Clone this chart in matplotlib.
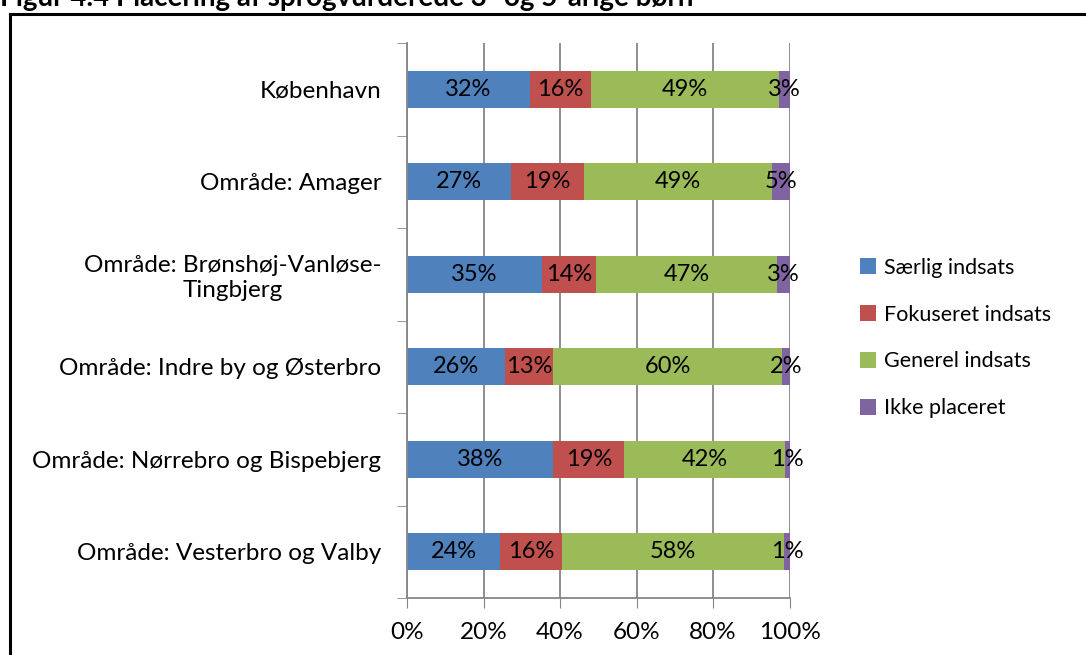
import matplotlib
matplotlib.use("Agg")
import matplotlib.pyplot as plt
from matplotlib.lines import Line2D
import numpy as np

plt.rcParams["font.family"] = ["Lato", "DejaVu Sans"]

categories = [
    "København",
    "Område: Amager",
    "Område: Brønshøj-Vanløse-\nTingbjerg",
    "Område: Indre by og Østerbro",
    "Område: Nørrebro og Bispebjerg",
    "Område: Vesterbro og Valby",
]
series = ["Særlig indsats", "Fokuseret indsats", "Generel indsats", "Ikke placeret"]
saerlig = [32.1, 27.2, 35.2, 25.6, 38.2, 24.4]
fokuseret = [16.0, 19.1, 14.3, 12.6, 18.6, 16.2]
generel = [49.1, 49.2, 47.3, 59.9, 42.1, 58.0]
ikke = [2.8, 4.6, 3.2, 1.9, 1.1, 1.4]
colors = ["#4F81BD", "#C0504D", "#9BBB59", "#8064A2"]

fig = plt.figure(figsize=(10.86, 6.55), dpi=100)
ax = fig.add_axes([407 / 1086, 1 - 598 / 655, 382.6 / 1086, 555 / 655])

y = np.arange(len(categories))[::-1]
left = np.zeros(len(categories))
for name, vals, c in zip(series, [saerlig, fokuseret, generel, ikke], colors):
    vals = np.array(vals)
    ax.barh(y, vals, left=left, height=0.4, color=c, label=name, zorder=2)
    for yi, l, v in zip(y, left, vals):
        ax.text(l + v / 2, yi, f"{round(v):.0f}%", ha="center", va="center",
                fontsize=17, zorder=3)
    left += vals

ax.set_xlim(0, 100)
ax.set_ylim(-0.5, len(categories) - 0.5)
ax.set_xticks(np.arange(0, 101, 20))
ax.set_xticklabels([f"{v}%" for v in range(0, 101, 20)], fontsize=17.5)
ax.set_yticks(y)
ax.set_yticklabels(categories, fontsize=17.5, ha="right", multialignment="center")
ax.set_yticks(np.arange(-0.5, len(categories)), minor=True)
ax.tick_params(axis="y", which="major", length=0, pad=18.5)
ax.tick_params(axis="y", which="minor", length=7, color="#868686", direction="out")
ax.tick_params(axis="x", length=7, color="#868686", direction="out", pad=10)
ax.xaxis.grid(True, color="#868686", lw=1.3, zorder=0)
for s in ["top", "right"]:
    ax.spines[s].set_visible(False)
for s in ["left", "bottom"]:
    ax.spines[s].set_color("#868686")
    ax.spines[s].set_linewidth(1.3)

ax.legend(loc="center left", bbox_to_anchor=(860 / 1086, 1 - 338 / 655),
          bbox_transform=fig.transFigure, frameon=False, fontsize=15.5,
          handlelength=0.75, handleheight=0.75, handletextpad=0.35,
          labelspacing=1.25, borderaxespad=0, borderpad=0)

# border of the figure frame and the cut-off heading
fig.add_artist(Line2D([10 / 1086, 10 / 1086], [0, 1 - 14 / 655], color="black",
                      lw=2.2, transform=fig.transFigure))
fig.add_artist(Line2D([10 / 1086, 1], [1 - 14 / 655, 1 - 14 / 655], color="black",
                      lw=2.2, transform=fig.transFigure))
fig.text(0.0, 1 - 6 / 655, "Figur 4.4 Placering af sprogvurderede 3- og 5-årige børn",
         fontsize=20, fontweight="bold", va="baseline", ha="left")

fig.savefig("out.png", dpi=100)
